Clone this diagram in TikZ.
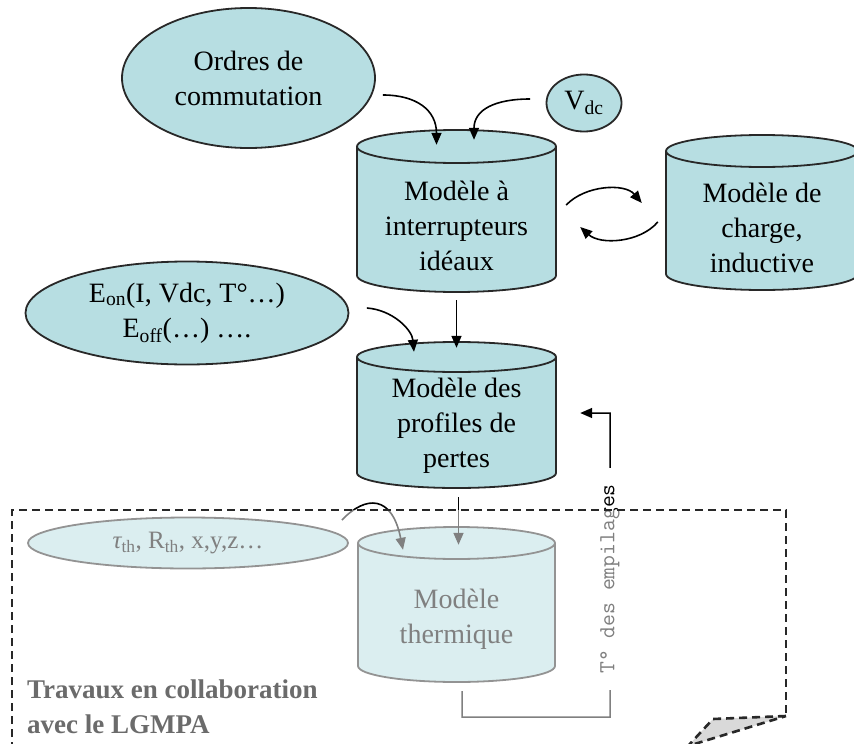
\documentclass[tikz,border=0pt]{standalone}
\usepackage{fontspec}
\setmainfont{Liberation Serif}
\usetikzlibrary{shapes.geometric,arrows.meta,calc}
\definecolor{cylfill}{RGB}{183,222,226}
\definecolor{edge}{RGB}{40,40,40}
\tikzset{
  edgeline/.style={draw=edge, line width=1.8pt},
  ell/.style={ellipse, draw=edge, line width=1.8pt, fill=cylfill, inner sep=0pt, align=center, font=\fontsize{28}{35}\selectfont},
  txt/.style={align=center, font=\fontsize{28}{35}\selectfont, inner sep=0pt},
  arr/.style={line width=1.6pt, draw=black, -{Triangle[length=12pt,width=10pt]}},
  boxline/.style={draw=edge, line width=2.6pt, dash pattern=on 8pt off 5pt},
}
\newcommand\mycyl[6]{%
  \fill[cylfill] (#2,#4-#6) ellipse[x radius=#5, y radius=#6];
  \draw[edgeline] (#2,#4-#6) ellipse[x radius=#5, y radius=#6];
  \fill[cylfill] (#2-#5,#3+#6) rectangle (#2+#5,#4-#6);
  \draw[edgeline] (#2-#5,#3+#6) -- (#2-#5,#4-#6) (#2+#5,#3+#6) -- (#2+#5,#4-#6);
  \draw[edgeline,fill=cylfill] (#2,#3+#6) ellipse[x radius=#5, y radius=#6];
  \node[minimum width=2*#5, minimum height=#4-#3, inner sep=0pt] (#1) at (#2,{(#3+#4)/2}) {};
}
\begin{document}
\begin{tikzpicture}[x=1pt,y=-1pt]
\useasboundingbox (0,0) rectangle (854,744);
\clip (0,0) rectangle (854,744);
\fill[white] (0,0) rectangle (854,744);

% cylinders
\mycyl{c1}{456.5}{130}{292}{99.5}{16.5}
\mycyl{c2}{762}{135}{290}{96}{16}
\mycyl{c3}{456.5}{342}{488}{99.5}{15}
\mycyl{c4}{456.5}{527}{682}{98.5}{16}
\node[txt] (c1t) at (456.5,226) {Modèle à\\interrupteurs\\idéaux};
\node[txt] (c2t) at (762,228) {Modèle de\\charge,\\inductive};
\node[txt] (c3t) at (456.5,426) {Modèle des\\profiles de\\pertes};
\node[txt] (c4t) at (456.5,619) {Modèle\\thermique};

% ellipses
\node[ell, minimum width=253, minimum height=140] (ord) at (248.5,78) {Ordres de\\commutation};
\node[ell, minimum width=75, minimum height=57] (vdc) at (584,103) {V\textsubscript{dc}};
\node[ell, minimum width=323, minimum height=103] (eon) at (187,313) {E\textsubscript{on}(I, Vdc, T°…)\\E\textsubscript{off}(…) ….};
\node[ell, minimum width=320, minimum height=51, font=\fontsize{25}{30}\selectfont] (tau) at (188,543) {{\itshape τ}\textsubscript{th}, R\textsubscript{th}, x,y,z…};

% connectors
\draw[arr] ($(ord.east)+(7,17)$) .. controls ($(ord.east)+(40,17)$) and ($(c1.north)+(-20,-20)$) .. ($(c1.north)+(-20,15)$);
\draw[arr] ($(vdc.west)+(-15.5,-4)$) .. controls ($(vdc.west)+(-51,-4)$) and ($(c1.north)+(17.5,-20)$) .. ($(c1.north)+(17.5,10)$);
\draw[arr] ($(c1.east)+(10,-6)$) .. controls ($(c1.east)+(29,-26)$) and ($(c2.west)+(-41,-29.5)$) .. ($(c2.west)+(-24,-9.5)$);
\draw[arr] ($(c2.west)+(-8,9.5)$) .. controls ($(c2.west)+(-26,30.5)$) and ($(c1.east)+(44,34)$) .. ($(c1.east)+(24,16)$);
\draw[arr] ($(c1.south)+(0,8)$) -- ($(c3.north)+(0,6)$);
\draw[arr] ($(eon.east)+(17.5,-5)$) .. controls ($(eon.east)+(43.5,-3)$) and ($(c3.north)+(-44.5,-12)$) .. ($(c3.north)+(-42.5,10)$);
\draw[arr] ($(c3.south)+(2,9)$) -- ($(c4.north)+(2,18)$);
\draw[arr] ($(tau.east)+(-7,-23)$) .. controls ($(tau.east)+(17,-48)$) and ($(c4.north)+(-64.5,-32)$) .. ($(c4.north)+(-53.5,23)$);
\draw[arr, line width=1.5pt] ($(c4.south)+(5.5,9)$) |- ($(c4.south)+(153.5,35)$) -- ($(c3.east)+(54,-2)$) -- ($(c3.east)+(24,-2)$);
\node[rotate=90, fill=white, inner xsep=16pt, inner ysep=2pt, font=\ttfamily\fontsize{23}{23}\selectfont] (lab) at (610,579) {T° des empilages};

% faded collaboration zone
\fill[white, opacity=0.5] (12,510) rectangle (786,744);
\draw[boxline] (12,750) -- (12,510) -- (786,510) -- (786,716);
\draw[boxline, fill=black!15] (786,716) -- (713,719) -- (688,746) -- cycle;
\node[anchor=west, align=left, inner sep=0pt, text=black!58, font=\bfseries\fontsize{27}{35}\selectfont] (trav) at (27,707) {Travaux en collaboration\\avec le LGMPA};
\end{tikzpicture}
\end{document}
